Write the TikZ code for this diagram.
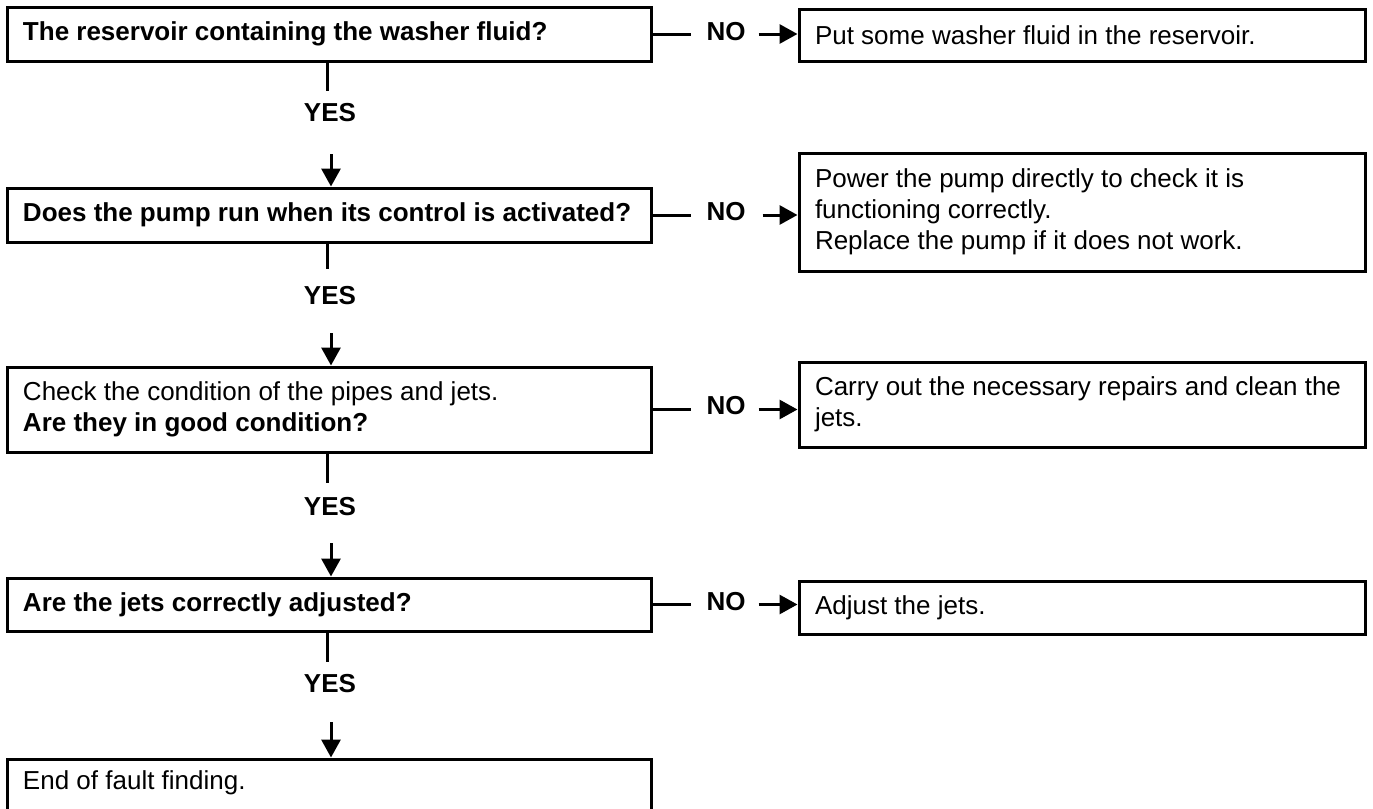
\documentclass[tikz,border=0pt]{standalone}
\usepackage{fontspec}
\setmainfont{Liberation Sans}
\usetikzlibrary{arrows.meta}
\begin{document}
\begin{tikzpicture}[x=0.5pt,y=-0.5pt,
  every node/.style={font=\fontsize{13pt}{15.5pt}\selectfont},
  lbox/.style={draw, line width=1.5pt, rectangle, minimum width=322pt, text width=306pt, align=flush left, inner xsep=8pt, inner ysep=0pt},
  rbox/.style={draw, line width=1.5pt, rectangle, minimum width=283pt, text width=267pt, align=flush left, inner xsep=8pt, inner ysep=0pt},
  conn/.style={line width=1.5pt},
  arr/.style={line width=1.5pt, -{Triangle[length=9pt,width=9.5pt]}},
  lab/.style={font=\fontsize{13pt}{15.5pt}\selectfont\bfseries, inner sep=0pt}]
\useasboundingbox (0,0) rectangle (1373,809);

% left column boxes
\node[lbox, minimum height=27pt] (q1) at (329,34) {\bfseries The reservoir containing the washer fluid?};
\node[lbox, minimum height=27pt] (q2) at (329,215) {\bfseries\mbox{Does the pump run when its control is activated?}};
\node[lbox, minimum height=42.5pt] (q3) at (329,409.5) {Check the condition of the pipes and jets.\\ \bfseries Are they in good condition?};
\node[lbox, minimum height=26.5pt] (q4) at (329,604.5) {\bfseries Are the jets correctly adjusted?};
\node[lbox, minimum height=27pt, text depth=6pt] (q5) at (329,786) {End of fault finding.};

% right column boxes
\node[rbox, minimum height=26pt] (r1) at (1082,35) {Put some washer fluid in the reservoir.};
\node[rbox, minimum height=59pt] (r2) at (1082,212) {Power the pump directly to check it is\\ functioning correctly.\\ Replace the pump if it does not work.};
\node[rbox, minimum height=42.5pt] (r3) at (1082,404.5) {\mbox{Carry out the necessary repairs and clean the}\\ jets.};
\node[rbox, minimum height=26.5pt] (r4) at (1082,607.5) {Adjust the jets.};

% YES branches
\coordinate (s1) at (327,91);
\coordinate (s2) at (327,269);
\coordinate (s3) at (327,483);
\coordinate (s4) at (327,662);
\node[lab] (y1) at (330,113) {YES};
\node[lab] (y2) at (330,296) {YES};
\node[lab] (y3) at (330,507) {YES};
\node[lab] (y4) at (330,684) {YES};
\coordinate (t2) at (331,154);
\coordinate (t3) at (331,333);
\coordinate (t4) at (331,543);
\coordinate (t5) at (331,722);
\draw[conn] (q1.south -| s1) -- (s1);
\draw[conn] (q2.south -| s2) -- (s2);
\draw[conn] (q3.south -| s3) -- (s3);
\draw[conn] (q4.south -| s4) -- (s4);
\draw[arr] (t2) -- (t2 |- q2.north);
\draw[arr] (t3) -- (t3 |- q3.north);
\draw[arr] (t4) -- (t4 |- q4.north);
\draw[arr] (t5) -- (t5 |- q5.north);

% NO branches
\draw[conn] (q1.east) -- ++(38,0) coordinate (n1);
\draw[conn] (q2.east) -- ++(38,0) coordinate (n2);
\draw[conn] (q3.east) -- ++(38,0) coordinate (n3);
\draw[conn] (q4.east) -- ++(38,0) coordinate (n4);
\node[lab] (no1) at (726,32) {NO};
\node[lab] (no2) at (726,212) {NO};
\node[lab] (no3) at (726,406) {NO};
\node[lab] (no4) at (726,602) {NO};
\path (q1.east) ++(106,0) coordinate (m1);
\path (q2.east) ++(110,0) coordinate (m2);
\path (q3.east) ++(106,0) coordinate (m3);
\path (q4.east) ++(106,0) coordinate (m4);
\draw[arr] (m1) -- (m1 -| r1.west);
\draw[arr] (m2) -- (m2 -| r2.west);
\draw[arr] (m3) -- (m3 -| r3.west);
\draw[arr] (m4) -- (m4 -| r4.west);
\end{tikzpicture}
\end{document}
